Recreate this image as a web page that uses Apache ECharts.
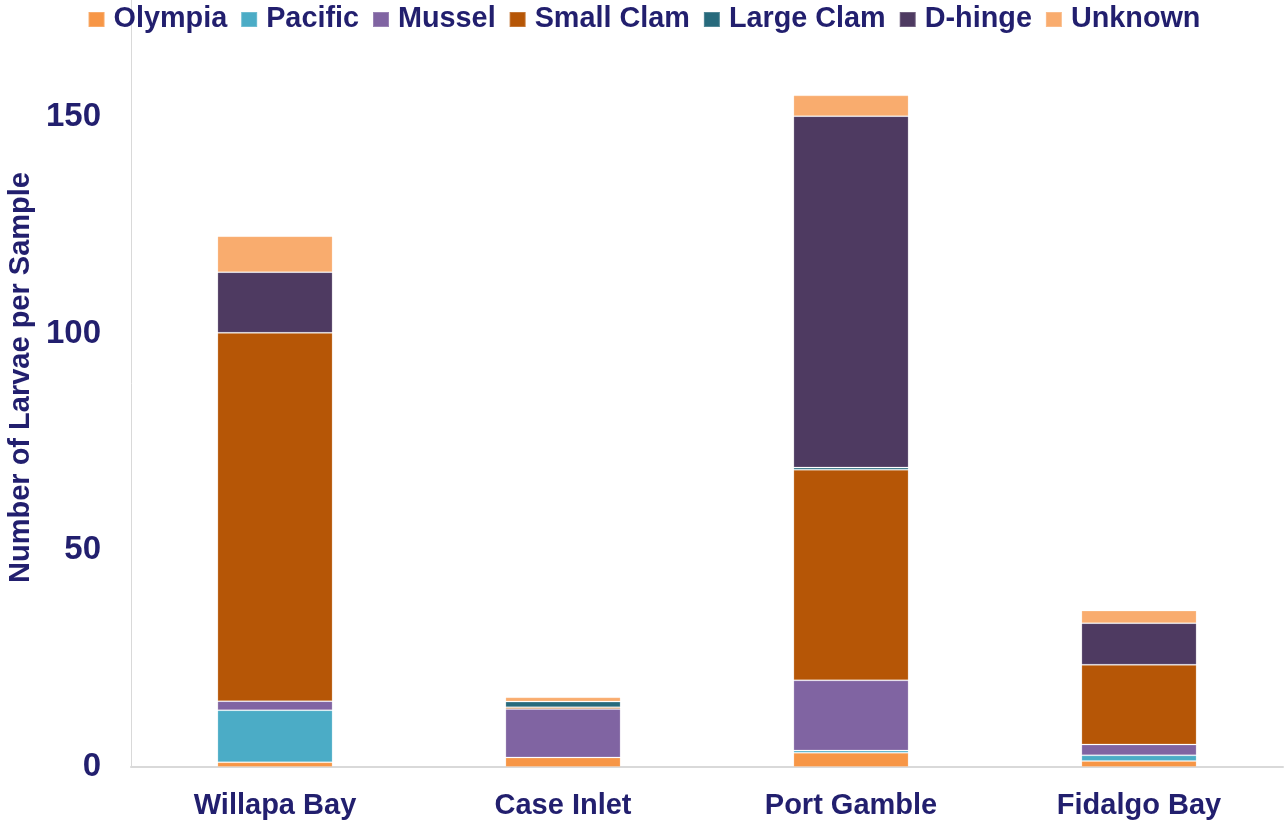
<!DOCTYPE html>
<html>
<head>
<meta charset="utf-8">
<title>Larvae per sample</title>
<script src="https://cdn.jsdelivr.net/npm/echarts@6/dist/echarts.min.js"></script>
<style>
	html,body{margin:0;padding:0;background:#fff;}
	#chart{width:1288px;height:829px;}
</style>
</head>
<body>
<div id="chart"></div>
<script>
	//站点
	var sites=['Willapa Bay','Case Inlet','Port Gamble','Fidalgo Bay']
	//每类幼虫数量
	var olympia=[1.1,2.2,3.3,1.4]
	var pacific=[12,0,0.5,1.3]
	var mussel=[2.1,11.2,16.2,2.5]
	var smallClam=[85,0.4,48.6,18.4]
	var largeClam=[0,1.3,0.5,0]
	var dHinge=[14,0,81.1,9.6]
	var unknown=[8.3,1.0,4.8,2.9]
	var yTicks=[0,50,100,150]

	var textColor='#221f6e'
	var font='"Liberation Sans", Arial, sans-serif'

	var chartInstance=echarts.init(document.getElementById('chart'))

	function makeSeries(name,data,color){
		return {
			name:name,
			type:'bar',
			stack:'total',
			barWidth:'40%',
			data:data,
			itemStyle:{
				color:color,
				borderColor:'rgba(255,255,255,0.2)',
				borderWidth:1
			}
		}
	}

	var option={
		animation:false,
		textStyle:{fontFamily:font},
		legend:{
			top:0,
			left:'center',
			itemWidth:16,
			itemHeight:15,
			itemGap:13,
			icon:'rect',
			textStyle:{
				color:textColor,
				fontSize:28.8,
				fontWeight:'bold',
				fontFamily:font,
				padding:[0,0,0,4]
			}
		},
		grid:{
			left:131,
			right:5,
			top:0,
			bottom:62,
			outerBoundsMode:'none',
			containLabel:false
		},
		xAxis:{
			type:'category',
			data:sites,
			axisTick:{show:false},
			axisLine:{lineStyle:{color:'#d9d9d9',width:2}},
			axisLabel:{
				color:textColor,
				fontSize:29,
				fontWeight:'bold',
				fontFamily:font,
				margin:24
			}
		},
		yAxis:{
			type:'value',
			min:0,
			max:177,
			interval:50,
			name:'Number of Larvae per Sample',
			nameLocation:'middle',
			nameGap:93,
			nameRotate:90,
			nameTextStyle:{
				color:textColor,
				fontSize:29,
				fontWeight:'bold',
				fontFamily:font,
				padding:[0,0,0,12]
			},
			splitLine:{show:false},
			axisTick:{show:false},
			axisLine:{show:true,lineStyle:{color:'#d9d9d9',width:1}},
			axisLabel:{
				color:textColor,
				fontSize:33,
				fontWeight:'bold',
				fontFamily:font,
				margin:30,
				showMaxLabel:false,
				formatter:function(v){
					return yTicks.indexOf(v)>=0?String(v):''
				}
			}
		},
		series:[
			makeSeries('Olympia',olympia,'#f79646'),
			makeSeries('Pacific',pacific,'#4bacc6'),
			makeSeries('Mussel',mussel,'#8064a2'),
			makeSeries('Small Clam',smallClam,'#b65606'),
			makeSeries('Large Clam',largeClam,'#276a7c'),
			makeSeries('D-hinge',dHinge,'#4e3a61'),
			makeSeries('Unknown',unknown,'#f9ac6e')
		]
	}
	chartInstance.setOption(option)
</script>
</body>
</html>
